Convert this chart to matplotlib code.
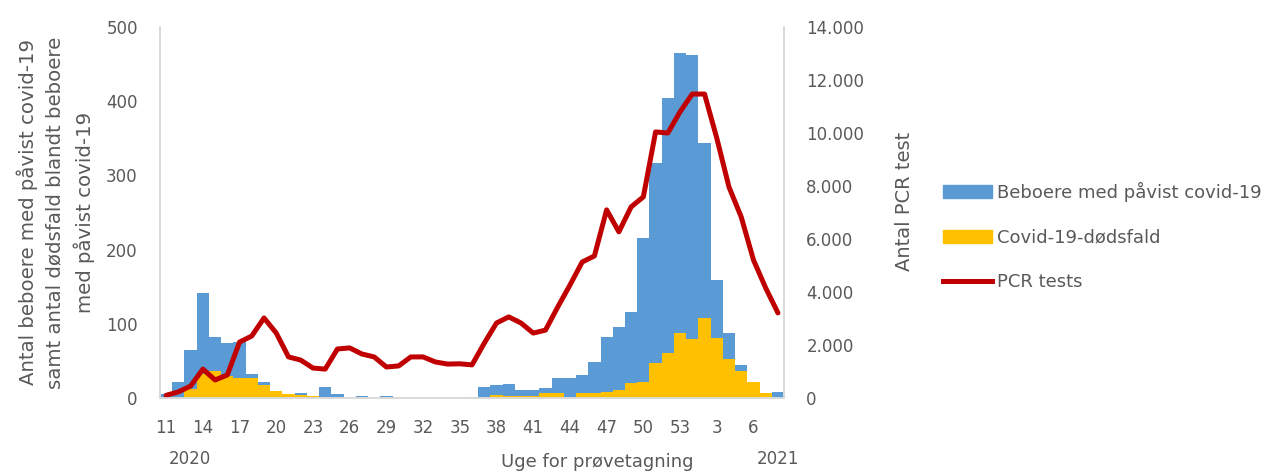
import numpy as np
import matplotlib
matplotlib.use("Agg")
import matplotlib.pyplot as plt
from matplotlib.patches import Patch
from matplotlib.lines import Line2D
from matplotlib.ticker import FuncFormatter

plt.rcParams["font.family"] = ["DejaVu Sans"]

# Week numbers: 2020 week 11-53, then 2021 week 1-8
weeks = [str(w) for w in range(11, 54)] + [str(w) for w in range(1, 9)]

residents = [5, 22, 65, 142, 82, 74, 76, 32, 22, 8,
             5, 7, 2, 15, 5, 0, 3, 0, 3, 0,
             0, 0, 0, 0, 0, 2, 15, 17, 19, 11,
             11, 13, 27, 27, 31, 49, 82, 96, 116, 215,
             317, 404, 465, 462, 343, 159, 88, 45, 21, 7,
             8]

deaths = [0, 2, 12, 33, 37, 30, 27, 27, 18, 10,
          5, 4, 3, 0, 0, 0, 0, 0, 0, 0,
          0, 0, 0, 0, 0, 0, 0, 4, 3, 3,
          3, 7, 7, 0, 7, 7, 8, 11, 20, 22,
          47, 60, 87, 80, 108, 81, 52, 36, 21, 7,
          0]

pcr_tests = [100, 230, 450, 1090, 680, 870, 2110, 2340, 3020, 2450,
             1550, 1430, 1130, 1090, 1850, 1890, 1660, 1550, 1170, 1210,
             1550, 1550, 1360, 1280, 1290, 1250, 2070, 2830, 3060, 2830,
             2450, 2560, 3430, 4260, 5130, 5360, 7100, 6270, 7210, 7590,
             10040, 10000, 10800, 11470, 11470, 9810, 7960, 6830, 5210, 4150,
             3210]

BLUE = "#5B9BD5"
YELLOW = "#FFC000"
RED = "#C00000"
GREY = "#595959"

fig = plt.figure(figsize=(12.64, 4.72), dpi=100)
ax = fig.add_axes([0.1266, 0.1568, 0.4937, 0.786])
ax2 = ax.twinx()

x = np.arange(len(weeks))
ax.bar(x, residents, width=1.0, color=BLUE, linewidth=0)
ax.bar(x, deaths, width=1.0, color=YELLOW, linewidth=0)
ax2.plot(x, pcr_tests, color=RED, linewidth=3.6, solid_capstyle="round", solid_joinstyle="round")

ax.set_xlim(-0.5, len(weeks) - 0.5)
ax.set_ylim(0, 500)
ax.set_yticks(range(0, 501, 100))
ax2.set_ylim(0, 14000)
ax2.set_yticks(range(0, 14001, 2000))
ax2.yaxis.set_major_formatter(FuncFormatter(lambda v, p: f"{int(v):,}".replace(",", ".")))

ax.set_xticks(x[::3])
ax.set_xticklabels(weeks[::3])

for a in (ax, ax2):
    a.tick_params(length=0, labelsize=12, labelcolor=GREY)
    a.spines["top"].set_visible(False)
    for s in ("left", "right", "bottom"):
        a.spines[s].set_color("#D9D9D9")
        a.spines[s].set_linewidth(1.2)
ax.tick_params(axis="x", pad=15)
ax.tick_params(axis="y", pad=16)
ax2.tick_params(axis="y", pad=16)

ax.set_ylabel("Antal beboere med påvist covid-19\nsamt antal dødsfald blandt beboere\nmed påvist covid-19",
              fontsize=14.2, color=GREY, labelpad=8, linespacing=1.5, multialignment="center")
fig.text(905 / 1264, 1 - 201 / 472, "Antal PCR test", fontsize=14, color=GREY,
         rotation=90, ha="center", va="center")

fig.text(190 / 1264, 1 - 459 / 472, "2020", fontsize=12, color=GREY, ha="center", va="center")
fig.text(778 / 1264, 1 - 459 / 472, "2021", fontsize=12, color=GREY, ha="center", va="center")
fig.text(597 / 1264, 1 - 462 / 472, "Uge for prøvetagning", fontsize=13, color=GREY,
         ha="center", va="center")

handles = [Patch(color=BLUE), Patch(color=YELLOW), Line2D([], [], color=RED, linewidth=3.6)]
labels = ["Beboere med påvist covid-19", "Covid-19-dødsfald", "PCR tests"]
leg = fig.legend(handles, labels, loc="upper left", bbox_to_anchor=(943 / 1264, 1 - 182 / 472),
                 frameon=False, fontsize=13, handlelength=2.7, handleheight=0.75,
                 handletextpad=0.3, labelspacing=1.47, borderpad=0, borderaxespad=0)
for t in leg.get_texts():
    t.set_color(GREY)

fig.savefig("out.png", dpi=100)
